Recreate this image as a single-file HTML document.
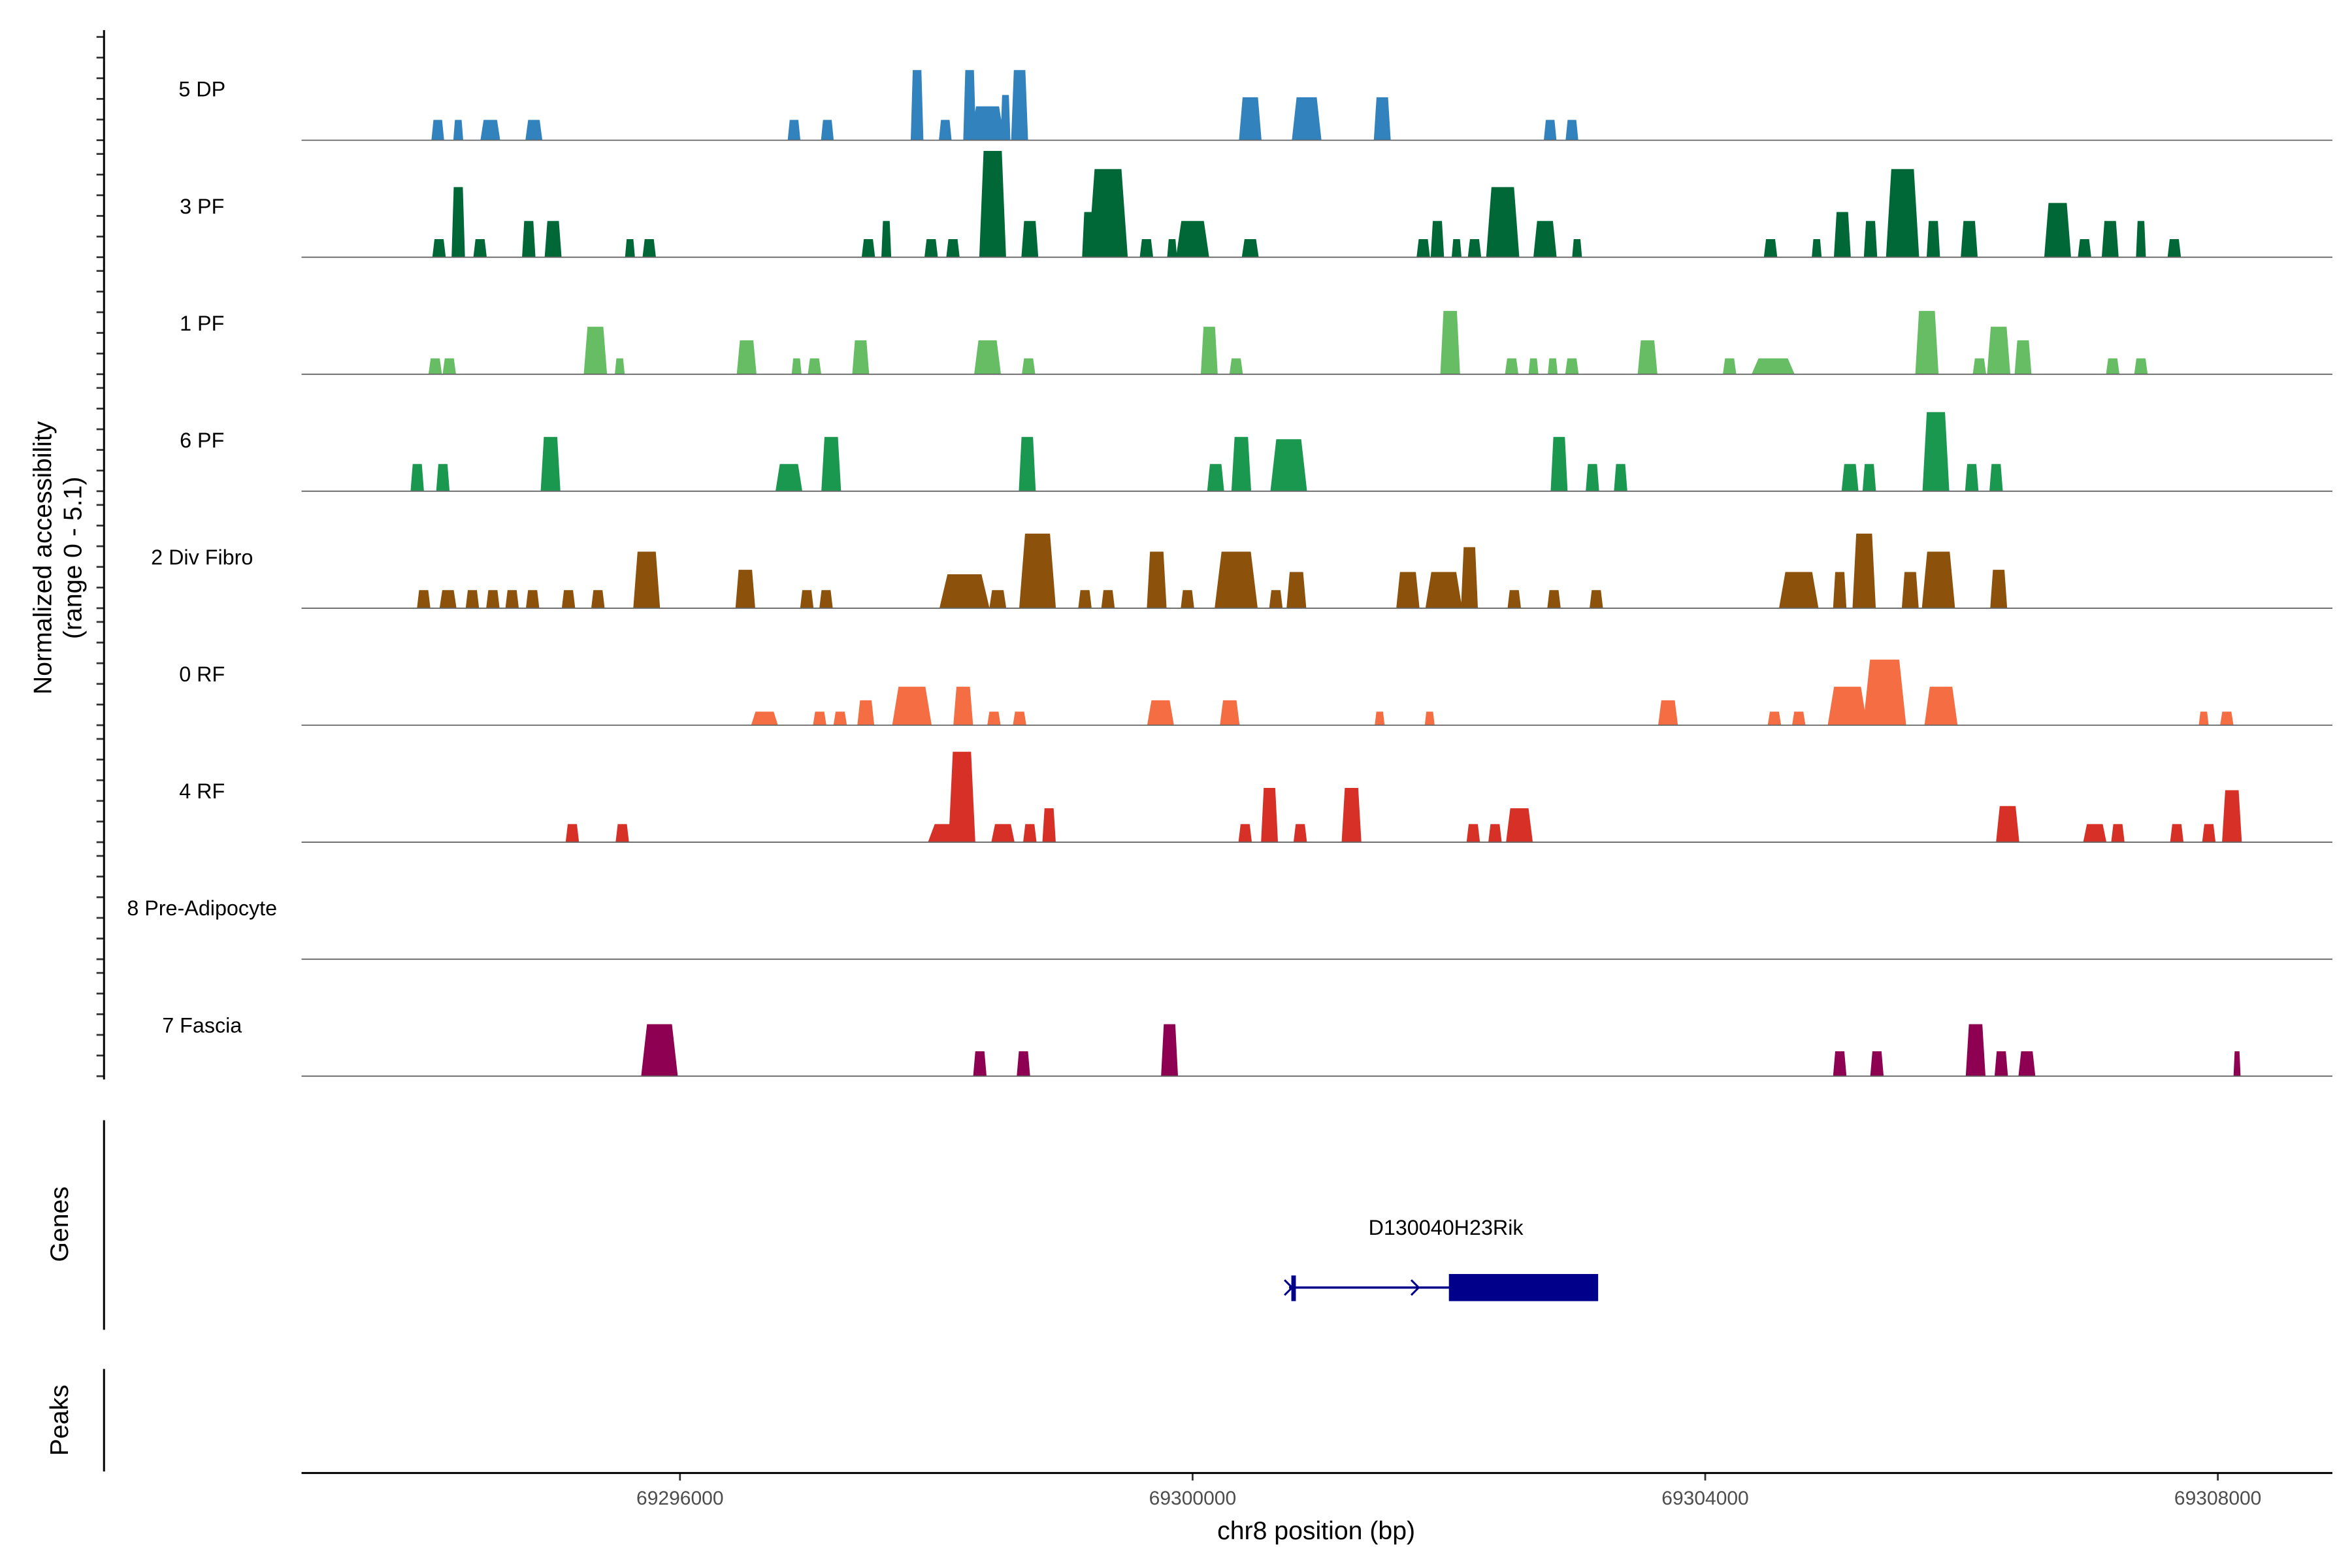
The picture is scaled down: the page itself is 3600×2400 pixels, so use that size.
<!DOCTYPE html>
<html><head><meta charset="utf-8">
<style>
html,body{margin:0;padding:0;background:#fff;}
svg{display:block;font-family:"Liberation Sans",Arial,sans-serif;}
</style></head>
<body>
<svg id="chart" width="3600" height="2400" viewBox="0 0 1560 1040" preserveAspectRatio="none" xmlns="http://www.w3.org/2000/svg">
<rect x="0" y="0" width="1560" height="1040" fill="#fff"/>
<g id="tracks"></g>
<g id="axes"></g>
<text transform="translate(34,370) rotate(-90)" text-anchor="middle" font-size="17" fill="#000">Normalized accessibility</text>
<text transform="translate(54,370) rotate(-90)" text-anchor="middle" font-size="17" fill="#000">(range 0 - 5.1)</text>
<line x1="69" y1="743" x2="69" y2="882" stroke="#000" stroke-width="1.3"/>
<text transform="translate(45,812) rotate(-90)" text-anchor="middle" font-size="17" fill="#000">Genes</text>
<line x1="69" y1="908" x2="69" y2="976" stroke="#000" stroke-width="1.3"/>
<text transform="translate(45,942) rotate(-90)" text-anchor="middle" font-size="17" fill="#000">Peaks</text>
<g>
<text x="959" y="819" text-anchor="middle" font-size="14" fill="#000">D130040H23Rik</text>
<line x1="855" y1="854" x2="962" y2="854" stroke="#00008b" stroke-width="1.5"/>
<line x1="858" y1="846" x2="858" y2="863" stroke="#00008b" stroke-width="3"/>
<path d="M852,849 L857,854 L852,859 M936,849 L941,854 L936,859" fill="none" stroke="#00008b" stroke-width="1.3"/>
<rect x="961" y="845" width="99" height="18" fill="#00008b"/>
</g>
<line x1="200" y1="977" x2="1547" y2="977" stroke="#000" stroke-width="1.3"/>
<text x="873" y="1021" text-anchor="middle" font-size="17" fill="#000">chr8 position (bp)</text>
</svg>
<script>
// region / scale
const xDomain = [69293.047, 69308.894]; // kb
const xTicks = [69296000, 69300000, 69304000, 69308000];
const trackNames = ["5 DP","3 PF","1 PF","6 PF","2 Div Fibro","0 RF","4 RF","8 Pre-Adipocyte","7 Fascia"];
const trackColors = ["#3182bd","#006837","#66bd63","#1a9850","#8c510a","#f46d43","#d73027","#a50026","#8e0152"];

// 5 DP
const pos0 = [69294.11,69294.27,69294.52,69294.86,69296.89,69297.15,69297.85,69298.07,69298.26,69298.40,69298.54,69298.65,69300.45,69300.89,69301.48,69302.79,69302.96];
const wid0 = [90,70,140,120,90,90,90,90,90,240,70,120,160,210,120,90,90];
const val0 = [.9,.9,.9,.9,.9,.9,3.1,.9,3.1,1.5,2.0,3.1,1.9,1.9,1.9,.9,.9];
// 3 PF
const pos1 = [69294.12,69294.27,69294.44,69294.82,69295.01,69295.61,69295.76,69297.47,69297.61,69297.96,69298.13,69298.44,69298.73,69299.19,69299.34,69299.64,69299.84,69300.00,69300.45,69301.80,69301.91,69302.06,69302.20,69302.42,69302.75,69303.00,69304.51,69304.87,69305.07,69305.29,69305.54,69305.78,69306.06,69306.75,69306.96,69307.16,69307.40,69307.66];
const wid1 = [95,95,95,95,120,70,95,95,70,95,95,190,120,95,280,95,70,235,120,95,95,70,95,235,165,70,95,70,120,95,235,95,120,190,95,120,70,95];
const val1 = [.8,3.1,.8,1.6,1.6,.8,.8,.8,1.6,.8,.8,4.7,1.6,2,3.9,.8,.8,1.6,.8,.8,1.6,.8,.8,3.1,1.6,.8,.8,.8,2,1.6,3.9,1.6,1.6,2.4,.8,1.6,1.6,.8];
// 1 PF
const pos2 = [69294.09,69294.20,69295.34,69295.53,69296.52,69296.91,69297.05,69297.41,69298.40,69298.72,69300.13,69300.34,69302.01,69302.49,69302.66,69302.81,69302.96,69303.55,69304.19,69304.53,69305.73,69306.14,69306.29,69306.48,69307.18,69307.40];
const wid2 = [95,95,165,70,140,70,95,120,190,95,120,95,140,95,70,70,95,140,95,305,165,95,165,120,95,95];
const val2 = [.7,.7,2.1,.7,1.5,.7,.7,1.5,1.5,.7,2.1,.7,2.8,.7,.7,.7,.7,1.5,.7,.7,2.8,.7,2.1,1.5,.7,.7];
// 6 PF
const pos3 = [69293.95,69294.15,69294.99,69296.85,69297.18,69298.71,69300.18,69300.38,69300.75,69302.86,69303.12,69303.34,69305.13,69305.28,69305.80,69306.08,69306.27];
const wid3 = [95,95,140,190,140,120,120,140,260,120,95,95,120,95,190,95,95];
const val3 = [1.2,1.2,2.4,1.2,2.4,2.4,1.2,2.4,2.3,2.4,1.2,1.2,1.2,1.2,3.5,1.2,1.2];
// 2 Div Fibro
const pos4 = [69294.00,69294.19,69294.38,69294.54,69294.69,69294.85,69295.13,69295.36,69295.74,69296.51,69296.99,69297.14,69298.22,69298.48,69298.79,69299.16,69299.34,69299.72,69299.96,69300.34,69300.65,69300.81,69301.68,69301.96,69302.16,69302.51,69302.82,69303.15,69304.73,69305.05,69305.24,69305.60,69305.82,69306.29];
const wid4 = [95,120,95,95,95,95,95,95,190,140,95,95,355,120,260,95,95,140,95,305,95,140,165,260,120,95,95,95,280,95,165,120,235,120];
const val4 = [.8,.8,.8,.8,.8,.8,.8,.8,2.5,1.7,.8,.8,1.5,.8,3.3,.8,.8,2.5,.8,2.5,.8,1.6,1.6,1.6,2.7,.8,.8,.8,1.6,1.6,3.3,1.6,2.5,1.7];
// 0 RF
const pos5 = [69296.66,69297.09,69297.25,69297.45,69297.81,69298.21,69298.45,69298.65,69299.75,69300.29,69301.46,69301.85,69303.71,69304.54,69304.73,69305.11,69305.40,69305.84,69307.89,69308.07];
const wid5 = [190,95,95,120,280,140,95,95,190,140,70,70,140,95,95,280,305,235,70,95];
const val5 = [.6,.6,.6,1.1,1.7,1.7,.6,.6,1.1,1.1,.6,.6,1.1,.6,.6,1.7,2.9,1.7,.6,.6];
// 4 RF
const pos6 = [69295.16,69295.55,69298.10,69298.20,69298.52,69298.73,69298.88,69300.41,69300.60,69300.84,69301.24,69302.19,69302.36,69302.55,69306.36,69307.04,69307.22,69307.68,69307.93,69308.11];
const wid6 = [95,95,300,190,165,95,95,95,120,95,140,95,95,190,165,165,95,95,95,140];
const val6 = [.8,.8,.8,4,.8,.8,1.5,.8,2.4,.8,2.4,.8,.8,1.5,1.6,.8,.8,.8,.8,2.3];
// 8 Pre-Adipocyte
const pos7 = [];
const wid7 = [];
const val7 = [];
// 7 Fascia
const pos8 = [69295.84,69298.34,69298.68,69299.82,69305.05,69305.34,69306.11,69306.31,69306.51,69308.15];
const wid8 = [260,95,95,120,95,95,140,95,120,50];
const val8 = [2.3,1.1,1.1,2.3,1.1,1.1,2.3,1.1,1.1,1.1];

const allPos=[pos0,pos1,pos2,pos3,pos4,pos5,pos6,pos7,pos8];
const allWid=[wid0,wid1,wid2,wid3,wid4,wid5,wid6,wid7,wid8];
const allVal=[val0,val1,val2,val3,val4,val5,val6,val7,val8];

const NS="http://www.w3.org/2000/svg";
const plotL=200, plotR=1547;
function X(kb){return plotL+(kb-xDomain[0])/(xDomain[1]-xDomain[0])*(plotR-plotL);}
const firstBase=93, trackStep=77.6, yMax=5.1, trackH=76.5;
function base(i){return firstBase+i*trackStep;}
function Y(i,v){return base(i)-v/yMax*trackH;}

const tracks=document.getElementById('tracks');
const axes=document.getElementById('axes');

for(let i=0;i<trackNames.length;i++){
  const g=document.createElementNS(NS,'g');
  
  
  tracks.appendChild(g);
  const lab=document.createElementNS(NS,'text');
  
  
  lab.setAttribute('x',134);lab.setAttribute('y',base(i)-29);
  lab.setAttribute('text-anchor','middle');lab.setAttribute('font-size','14');
  lab.textContent=trackNames[i];
  g.appendChild(lab);
  const p=allPos[i],w=allWid[i],v=allVal[i];
  for(let k=0;k<p.length;k++){
    const x0=X(p[k]-w[k]*0.55/1000),x1=X(p[k]+w[k]*0.55/1000);
    const ins=(x1-x0)*0.16;
    const yb=base(i),yt=Y(i,v[k]);
    const poly=document.createElementNS(NS,'polygon');
    
    
    poly.setAttribute('points',`${x0},${yb} ${x0+ins},${yt} ${x1-ins},${yt} ${x1},${yb}`);
    poly.setAttribute('fill',trackColors[i]);
    g.appendChild(poly);
  }
  const bl=document.createElementNS(NS,'line');
  
  
  bl.setAttribute('x1',plotL);bl.setAttribute('x2',plotR);
  bl.setAttribute('y1',base(i));bl.setAttribute('y2',base(i));
  bl.setAttribute('stroke','#666');bl.setAttribute('stroke-width','0.8');
  g.appendChild(bl);
  for(let t=0;t<6;t++){
    const ty=base(i)-t*13.7;
    const tk=document.createElementNS(NS,'line');
    
    
    tk.setAttribute('x1',64);tk.setAttribute('x2',69);
    tk.setAttribute('y1',ty);tk.setAttribute('y2',ty);
    tk.setAttribute('stroke','#333');tk.setAttribute('stroke-width','1.2');
    axes.appendChild(tk);
  }
}
const yl=document.createElementNS(NS,'line');


yl.setAttribute('x1',69);yl.setAttribute('x2',69);yl.setAttribute('y1',20);yl.setAttribute('y2',716);
yl.setAttribute('stroke','#000');yl.setAttribute('stroke-width','1.3');
axes.appendChild(yl);

for(const t of xTicks){
  const x=X(t/1000);
  const tk=document.createElementNS(NS,'line');
  
  
  tk.setAttribute('x1',x);tk.setAttribute('x2',x);tk.setAttribute('y1',977);tk.setAttribute('y2',982);
  tk.setAttribute('stroke','#333');tk.setAttribute('stroke-width','1.2');
  axes.appendChild(tk);
  const tl=document.createElementNS(NS,'text');
  
  
  tl.setAttribute('x',x);tl.setAttribute('y',998);tl.setAttribute('text-anchor','middle');
  tl.setAttribute('font-size','13');tl.setAttribute('fill','#4d4d4d');
  tl.textContent=String(t);
  axes.appendChild(tl);
}
</script>
</body></html>
